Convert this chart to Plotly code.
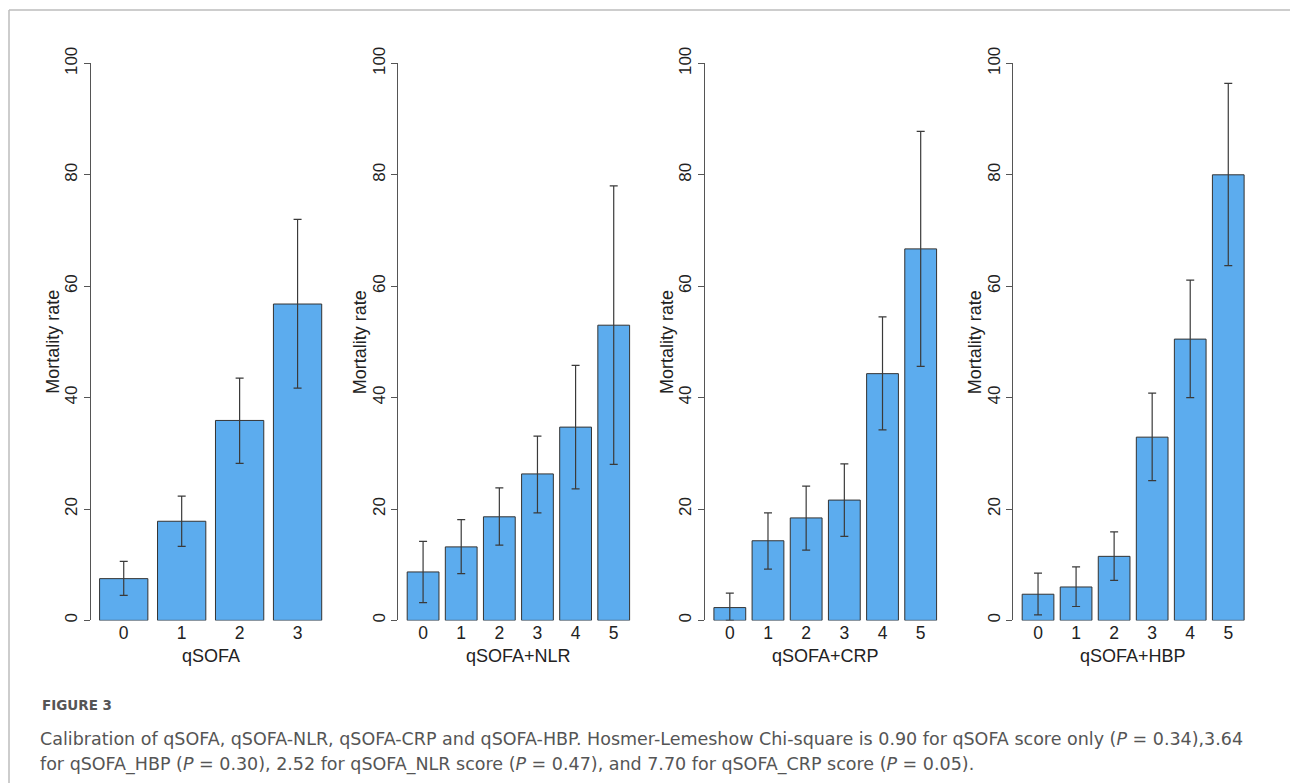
import plotly.graph_objects as go

W, H = 1290, 783

# ---- data ----
panel_titles = ["qSOFA", "qSOFA+NLR", "qSOFA+CRP", "qSOFA+HBP"]

qsofa_scores = [0, 1, 2, 3]
qsofa_rate = [7.5, 17.8, 35.9, 56.8]
qsofa_upper = [10.6, 22.3, 43.5, 72.0]
qsofa_lower = [4.5, 13.3, 28.2, 41.7]

nlr_scores = [0, 1, 2, 3, 4, 5]
nlr_rate = [8.7, 13.2, 18.6, 26.3, 34.7, 53.0]
nlr_upper = [14.2, 18.1, 23.8, 33.1, 45.8, 78.0]
nlr_lower = [3.2, 8.4, 13.5, 19.3, 23.6, 28.0]

crp_scores = [0, 1, 2, 3, 4, 5]
crp_rate = [2.3, 14.3, 18.4, 21.6, 44.3, 66.7]
crp_upper = [4.9, 19.3, 24.1, 28.1, 54.5, 87.8]
crp_lower = [0.0, 9.2, 12.6, 15.1, 34.2, 45.6]

hbp_scores = [0, 1, 2, 3, 4, 5]
hbp_rate = [4.7, 6.0, 11.5, 32.9, 50.5, 80.0]
hbp_upper = [8.5, 9.6, 15.9, 40.8, 61.1, 96.4]
hbp_lower = [1.0, 2.5, 7.2, 25.1, 40.0, 63.7]

y_ticks = [0, 20, 40, 60, 80, 100]
y_label = "Mortality rate"

caption_head = "FIGURE 3"
caption_l1 = ("Calibration of qSOFA, qSOFA-NLR, qSOFA-CRP and qSOFA-HBP. Hosmer-Lemeshow Chi-square is 0.90 "
              "for qSOFA score only (<i>P</i> = 0.34),3.64")
caption_l2 = ("for qSOFA_HBP (<i>P</i> = 0.30), 2.52 for qSOFA_NLR score (<i>P</i> = 0.47), and 7.70 "
              "for qSOFA_CRP score (<i>P</i> = 0.05).")

panels = [
    (qsofa_scores, qsofa_rate, qsofa_upper, qsofa_lower),
    (nlr_scores, nlr_rate, nlr_upper, nlr_lower),
    (crp_scores, crp_rate, crp_upper, crp_lower),
    (hbp_scores, hbp_rate, hbp_upper, hbp_lower),
]

# ---- layout geometry (pixels) ----
x_px = [(90.7, 330.6), (398.3, 638.5), (705.0, 945.5), (1013.3, 1253.0)]
y_top_px, y_bot_px = 63.4, 620.4

FONT = "Liberation Sans, Arial, sans-serif"
CAP_FONT = "DejaVu Sans, sans-serif"
BAR_FILL = "#5CACEE"
EDGE = "#333333"
AX = "#555555"

fig = go.Figure()
layout = dict(
    width=W, height=H,
    margin=dict(l=0, r=0, t=0, b=0, autoexpand=False),
    paper_bgcolor="white", plot_bgcolor="white",
    showlegend=False, bargap=1/6,
    font=dict(family=FONT, size=17, color="#222"),
)
annotations = []
shapes = []

for i, (scores, rate, up, lo) in enumerate(panels):
    n = i + 1
    xa = "x" if n == 1 else f"x{n}"
    ya = "y" if n == 1 else f"y{n}"
    plus = [u - r for u, r in zip(up, rate)]
    minus = [r - l for r, l in zip(rate, lo)]
    fig.add_trace(go.Bar(
        x=scores, y=rate, xaxis=xa, yaxis=ya,
        marker=dict(color=BAR_FILL, line=dict(color=EDGE, width=1)),
        error_y=dict(type="data", symmetric=False, array=plus, arrayminus=minus,
                     color="#3a3a3a", thickness=1.2, width=4),
        cliponaxis=False,
    ))
    x0, x1 = x_px[i]
    nb = len(scores)
    pad = 0.57 if nb == 4 else 0.65
    layout[f"xaxis{'' if n == 1 else n}"] = dict(
        domain=[x0 / W, x1 / W], anchor=ya, automargin=False,
        range=[-pad, nb - 1 + pad],
        tickmode="array", tickvals=scores, ticktext=[str(s) for s in scores],
        showline=False, showgrid=False, zeroline=False, ticks="",
        tickfont=dict(size=17.5, color="#222"),
    )
    layout[f"yaxis{'' if n == 1 else n}"] = dict(
        domain=[(H - y_bot_px) / H, (H - y_top_px) / H], anchor=xa, automargin=False,
        range=[0, 100], tickmode="array", tickvals=y_ticks,
        showline=True, linecolor=AX, linewidth=1,
        ticks="outside", ticklen=6, tickcolor=AX, tickwidth=1,
        tickangle=-90, showgrid=False, zeroline=False,
        tickfont=dict(size=17, color="#222"),
    )
    # y-axis title
    annotations.append(dict(
        text=y_label, xref="paper", yref="paper",
        x=(x0 - 38) / W, y=(H - 342) / H, textangle=-90,
        showarrow=False, xanchor="center", yanchor="middle",
        font=dict(size=18, color="#222"),
    ))
    # x-axis title
    annotations.append(dict(
        text=panel_titles[i], xref=f"{xa} domain", yref="paper",
        x=0.5, y=(H - 656) / H,
        showarrow=False, xanchor="center", yanchor="middle",
        font=dict(size=18, color="#222"),
    ))

# caption
annotations.append(dict(
    text=caption_head, xref="paper", yref="paper", x=40 / W, y=(H - 705) / H,
    showarrow=False, xanchor="left", yanchor="middle",
    font=dict(family=CAP_FONT, size=13.5, color="#555", weight="bold"),
))
annotations.append(dict(
    text=caption_l1, xref="paper", yref="paper", x=38 / W, y=(H - 739) / H,
    showarrow=False, xanchor="left", yanchor="middle",
    font=dict(family=CAP_FONT, size=17.5, color="#555"),
))
annotations.append(dict(
    text=caption_l2, xref="paper", yref="paper", x=38 / W, y=(H - 764) / H,
    showarrow=False, xanchor="left", yanchor="middle",
    font=dict(family=CAP_FONT, size=17.5, color="#555"),
))

# page frame (top and left rule)
shapes.append(dict(type="line", xref="paper", yref="paper",
                   x0=9 / W, x1=1.0, y0=(H - 10) / H, y1=(H - 10) / H,
                   line=dict(color="#bdbdbd", width=1.5)))
shapes.append(dict(type="line", xref="paper", yref="paper",
                   x0=9 / W, x1=9 / W, y0=0, y1=(H - 10) / H,
                   line=dict(color="#bdbdbd", width=1.5)))

layout["annotations"] = annotations
layout["shapes"] = shapes
fig.update_layout(**layout)
fig.write_html("out.html", config={"displayModeBar": False},
               post_script="document.body.style.margin='0px';")
